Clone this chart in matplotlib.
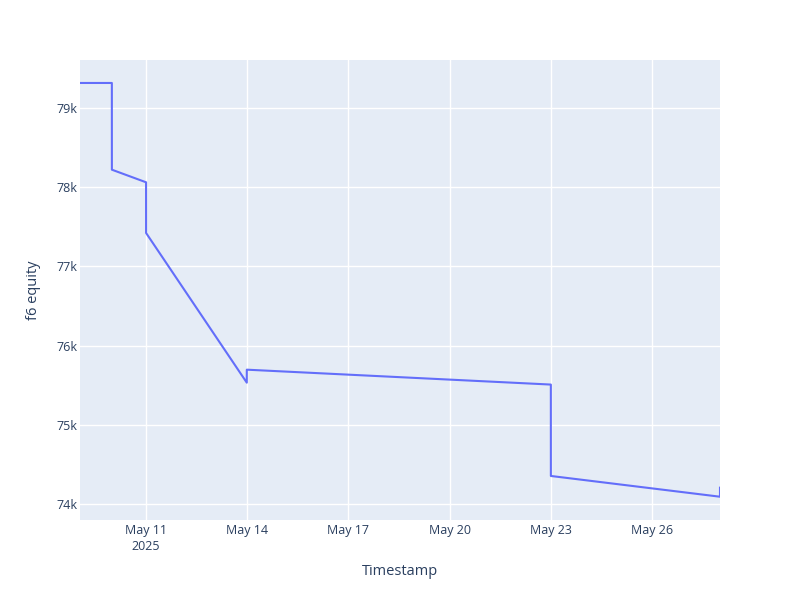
import numpy as np
import pandas as pd
import matplotlib
matplotlib.use("Agg")
import matplotlib.pyplot as plt
import matplotlib.dates as mdates
from matplotlib.ticker import FuncFormatter

# equity curve
timestamps = pd.to_datetime([
    "2025-05-09 01:00", "2025-05-09 23:40", "2025-05-09 23:41",
    "2025-05-11 00:00", "2025-05-11 00:01", "2025-05-13 23:40",
    "2025-05-13 23:41", "2025-05-23 00:00", "2025-05-23 00:01",
    "2025-05-28 00:20", "2025-05-28 00:21",
])
equity = [79316, 79316, 78221, 78062, 77422, 75532,
          75696, 75508, 74354, 74092, 74206]

tick_dates = pd.to_datetime(["2025-05-11", "2025-05-14", "2025-05-17",
                             "2025-05-20", "2025-05-23", "2025-05-26"])
y_ticks = [74000, 75000, 76000, 77000, 78000, 79000]

plt.rcParams['font.family'] = ['Open Sans', 'DejaVu Sans']
text_color = '#2a3f5f'

fig = plt.figure(figsize=(8, 6), dpi=100)
ax = fig.add_axes([80 / 800, 80 / 600, 640 / 800, 460 / 600])
ax.set_facecolor('#E5ECF6')

ax.plot(timestamps, equity, color='#636EFA', linewidth=1.5, zorder=3)

ax.set_xlim(timestamps[0], timestamps[-1])
ax.set_ylim(73798, 79606)

ax.set_xticks(tick_dates)
def fmt_date(x, pos):
    d = mdates.num2date(x)
    s = d.strftime('%b %d').replace(' 0', ' ')
    if pos == 0:
        s += '\n' + d.strftime('%Y')
    return s
ax.xaxis.set_major_formatter(FuncFormatter(fmt_date))
ax.set_yticks(y_ticks)
ax.yaxis.set_major_formatter(FuncFormatter(lambda v, p: f"{int(v / 1000)}k"))

ax.grid(True, color='white', linewidth=1, zorder=0)
ax.set_axisbelow(True)
for s in ax.spines.values():
    s.set_visible(False)
ax.tick_params(length=0, labelsize=9, colors=text_color)
ax.tick_params(axis='x', pad=3)
ax.tick_params(axis='y', pad=2)
for lbl in ax.get_xticklabels():
    lbl.set_linespacing(1.3)

ax.set_xlabel('Timestamp', fontsize=10.5, color=text_color, labelpad=8)
ax.set_ylabel('f6 equity', fontsize=10.5, color=text_color, labelpad=11)

fig.savefig('out.png', dpi=100)
